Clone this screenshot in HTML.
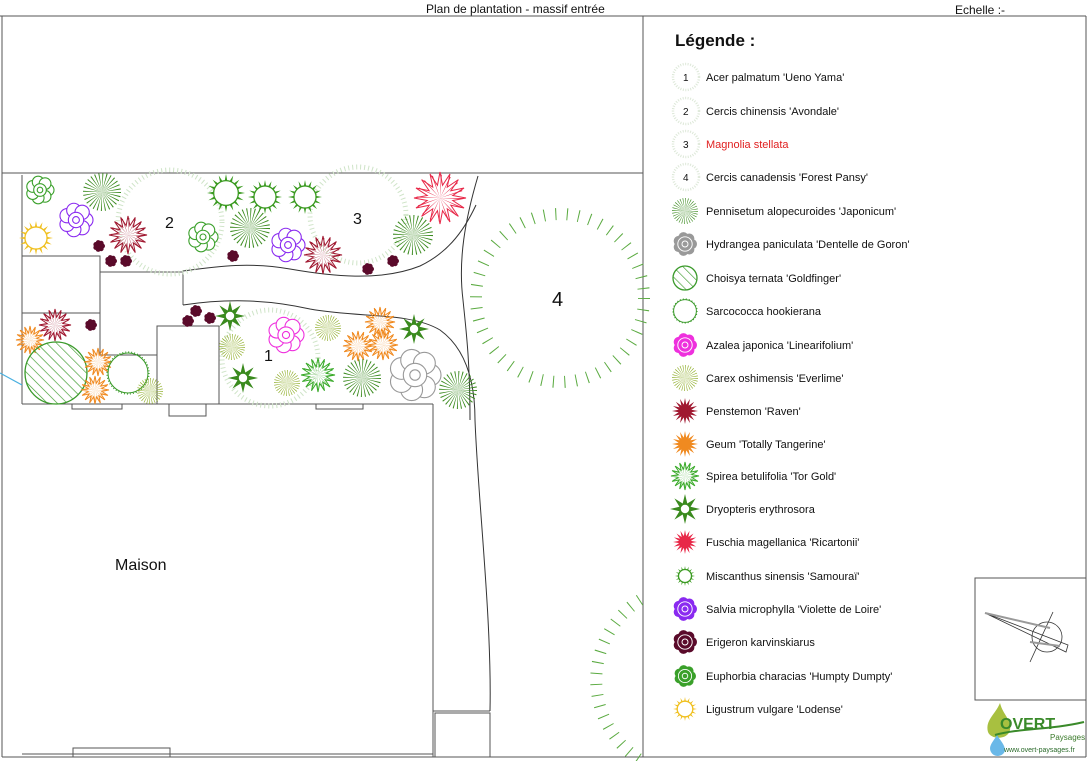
<!DOCTYPE html>
<html><head><meta charset="utf-8"><style>
html,body{margin:0;padding:0;background:#fff;}
svg{display:block;font-family:"Liberation Sans",sans-serif;}
</style></head><body>
<svg width="1088" height="761" viewBox="0 0 1088 761" xmlns="http://www.w3.org/2000/svg" xmlns:xlink="http://www.w3.org/1999/xlink">
<defs>
<pattern id="hatch" width="7" height="7" patternUnits="userSpaceOnUse" patternTransform="rotate(-45)">
<line x1="0" y1="0" x2="0" y2="7" stroke="#3a9a2a" stroke-width="1.3"/>
</pattern>
<g id="rad">
<circle r="5" fill="none" stroke="currentColor" stroke-width="10" stroke-dasharray="0.28 0.84"/>
</g>
<g id="star">
<polygon vector-effect="non-scaling-stroke" fill="none" stroke="currentColor" stroke-width="1" points="10,0 4.9,0.98 9.24,3.83 4.16,2.78 7.07,7.07 2.78,4.16 3.83,9.24 0.98,4.9 0,10 -0.98,4.9 -3.83,9.24 -2.78,4.16 -7.07,7.07 -4.16,2.78 -9.24,3.83 -4.9,0.98 -10,0 -4.9,-0.98 -9.24,-3.83 -4.16,-2.78 -7.07,-7.07 -2.78,-4.16 -3.83,-9.24 -0.98,-4.9 0,-10 0.98,-4.9 3.83,-9.24 2.78,-4.16 7.07,-7.07 4.16,-2.78 9.24,-3.83 4.9,-0.98"/>
<circle r="4.5" fill="none" stroke="currentColor" stroke-width="9" stroke-dasharray="0.2 1.57"/>
</g>
<g id="starf">
<polygon fill="currentColor" points="10,0 4.9,0.98 9.24,3.83 4.16,2.78 7.07,7.07 2.78,4.16 3.83,9.24 0.98,4.9 0,10 -0.98,4.9 -3.83,9.24 -2.78,4.16 -7.07,7.07 -4.16,2.78 -9.24,3.83 -4.9,0.98 -10,0 -4.9,-0.98 -9.24,-3.83 -4.16,-2.78 -7.07,-7.07 -2.78,-4.16 -3.83,-9.24 -0.98,-4.9 0,-10 0.98,-4.9 3.83,-9.24 2.78,-4.16 7.07,-7.07 4.16,-2.78 9.24,-3.83 4.9,-0.98"/>
</g>
<g id="ring">
<polygon fill="currentColor" points="10,0 4.9,0.98 9.24,3.83 4.16,2.78 7.07,7.07 2.78,4.16 3.83,9.24 0.98,4.9 0,10 -0.98,4.9 -3.83,9.24 -2.78,4.16 -7.07,7.07 -4.16,2.78 -9.24,3.83 -4.9,0.98 -10,0 -4.9,-0.98 -9.24,-3.83 -4.16,-2.78 -7.07,-7.07 -2.78,-4.16 -3.83,-9.24 -0.98,-4.9 0,-10 0.98,-4.9 3.83,-9.24 2.78,-4.16 7.07,-7.07 4.16,-2.78 9.24,-3.83 4.9,-0.98"/>
<circle r="6.5" fill="#fff" stroke="currentColor" stroke-width="1.3" vector-effect="non-scaling-stroke"/>
</g>
<g id="dryo">
<polygon fill="currentColor" points="10,0 3.7,1.53 7.07,7.07 1.53,3.7 0,10 -1.53,3.7 -7.07,7.07 -3.7,1.53 -10,0 -3.7,-1.53 -7.07,-7.07 -1.53,-3.7 0,-10 1.53,-3.7 7.07,-7.07 3.7,-1.53"/>
<circle r="2.8" fill="#fff"/>
</g>
<g id="blob" fill="#fff" stroke="currentColor" stroke-width="1.1">
<circle cx="5.8" cy="0" r="4.2" vector-effect="non-scaling-stroke"/><circle cx="3.61" cy="4.54" r="4.2" vector-effect="non-scaling-stroke"/><circle cx="-1.29" cy="5.65" r="4.2" vector-effect="non-scaling-stroke"/><circle cx="-5.23" cy="2.52" r="4.2" vector-effect="non-scaling-stroke"/><circle cx="-5.23" cy="-2.52" r="4.2" vector-effect="non-scaling-stroke"/><circle cx="-1.29" cy="-5.65" r="4.2" vector-effect="non-scaling-stroke"/><circle cx="3.61" cy="-4.54" r="4.2" vector-effect="non-scaling-stroke"/>
<circle r="4.5" vector-effect="non-scaling-stroke"/><circle r="2" vector-effect="non-scaling-stroke"/>
</g>
<g id="blobf" fill="currentColor">
<circle cx="5.8" cy="0" r="4.2"/><circle cx="3.61" cy="4.54" r="4.2"/><circle cx="-1.29" cy="5.65" r="4.2"/><circle cx="-5.23" cy="2.52" r="4.2"/><circle cx="-5.23" cy="-2.52" r="4.2"/><circle cx="-1.29" cy="-5.65" r="4.2"/><circle cx="3.61" cy="-4.54" r="4.2"/><circle r="5"/>
</g>
<g id="blobl" fill="currentColor">
<circle cx="5.8" cy="0" r="4.2"/><circle cx="3.61" cy="4.54" r="4.2"/><circle cx="-1.29" cy="5.65" r="4.2"/><circle cx="-5.23" cy="2.52" r="4.2"/><circle cx="-5.23" cy="-2.52" r="4.2"/><circle cx="-1.29" cy="-5.65" r="4.2"/><circle cx="3.61" cy="-4.54" r="4.2"/><circle r="5"/>
<g fill="none" stroke="#fff" stroke-width="0.8"><circle r="2.5"/><circle r="6"/></g>
</g>
<g id="sarc">
<circle r="9.5" fill="none" stroke="currentColor" stroke-width="1" vector-effect="non-scaling-stroke"/>
<circle r="10" fill="none" stroke="currentColor" stroke-width="1.2" stroke-dasharray="1 2" vector-effect="non-scaling-stroke"/>
</g>
</defs>

<g fill="none" stroke="#555" stroke-width="1">
<line x1="0" y1="16" x2="1086" y2="16"/>
<line x1="2" y1="16" x2="2" y2="757"/>
<line x1="1086" y1="16" x2="1086" y2="757"/>
<line x1="2" y1="757" x2="1086" y2="757"/>
<line x1="643" y1="16" x2="643" y2="757"/>
<line x1="2" y1="173" x2="643" y2="173"/>
<line x1="22" y1="175" x2="22" y2="404"/>
<line x1="22" y1="404" x2="433" y2="404"/>
<line x1="433" y1="404" x2="433" y2="757"/>
<rect x="22" y="256" width="78" height="57"/>
<line x1="100" y1="313" x2="100" y2="355"/>
<line x1="100" y1="355" x2="157" y2="355"/>
<line x1="100" y1="272" x2="183" y2="272"/>
<line x1="183" y1="272" x2="183" y2="305"/>
<rect x="157" y="326" width="62" height="78"/>
<rect x="72" y="404" width="50" height="5"/>
<rect x="169" y="404" width="37" height="12"/>
<rect x="316" y="404" width="47" height="5"/>
<rect x="73" y="748" width="97" height="9"/>
<rect x="435" y="713" width="55" height="44"/>
<line x1="433" y1="711" x2="490" y2="711"/>
<line x1="22" y1="754" x2="433" y2="754"/>
<path d="M183,271 C220,266 250,262 290,269 C330,276 380,282 420,266 C445,254 462,235 476,205" stroke="#333"/>
<path d="M183,305 C230,298 270,300 310,309 C360,318 410,312 440,330 C465,348 475,380 475,420 C478,500 492,620 490,711" stroke="#333"/>
<path d="M478,176 C465,220 458,260 463,300 C466,330 470,360 470,420" stroke="#333"/>
<rect x="975" y="578" width="111" height="122"/>
<line x1="975" y1="700" x2="1086" y2="700"/>
</g>
<line x1="0" y1="373" x2="22" y2="385" stroke="#4ab0e0" stroke-width="1.2"/>

<g fill="none">
<circle cx="170" cy="222" r="52" stroke="#cfe4c8" stroke-width="5" stroke-dasharray="1 3"/>
<circle cx="358" cy="215" r="48" stroke="#cfe4c8" stroke-width="5" stroke-dasharray="1 3"/>
<circle cx="270" cy="358" r="48" stroke="#cfe4c8" stroke-width="5" stroke-dasharray="1 3"/>
<circle cx="560" cy="298" r="84" stroke="#5aaa40" stroke-width="12" stroke-dasharray="1 10.5"/>
<path d="M640,600 A95,95 0 0 0 640,760" stroke="#5aaa40" stroke-width="12" stroke-dasharray="1 10"/>
</g>

<use href="#blob" xlink:href="#blob" transform="translate(40,190) scale(1.4)" color="#3aa02a"/>
<use href="#rad" xlink:href="#rad" transform="translate(102,192) scale(1.9)" color="#3a8a1e"/>
<use href="#ring" xlink:href="#ring" transform="translate(36,238) scale(1.7)" color="#f0c020"/>
<use href="#blob" xlink:href="#blob" transform="translate(76,220) scale(1.7)" color="#8a2af0"/>
<use href="#star" xlink:href="#star" transform="translate(128,235) scale(1.9)" color="#a01830"/>
<g color="#5a0a2a">
<use href="#blobf" xlink:href="#blobf" transform="translate(99,246) scale(0.6)"/>
<use href="#blobf" xlink:href="#blobf" transform="translate(111,261) scale(0.6)"/>
<use href="#blobf" xlink:href="#blobf" transform="translate(126,261) scale(0.6)"/>
<use href="#blobf" xlink:href="#blobf" transform="translate(233,256) scale(0.6)"/>
<use href="#blobf" xlink:href="#blobf" transform="translate(368,269) scale(0.6)"/>
<use href="#blobf" xlink:href="#blobf" transform="translate(393,261) scale(0.6)"/>
<use href="#blobf" xlink:href="#blobf" transform="translate(188,321) scale(0.6)"/>
<use href="#blobf" xlink:href="#blobf" transform="translate(196,311) scale(0.6)"/>
<use href="#blobf" xlink:href="#blobf" transform="translate(210,318) scale(0.6)"/>
<use href="#blobf" xlink:href="#blobf" transform="translate(91,325) scale(0.6)"/>
</g>
<use href="#blob" xlink:href="#blob" transform="translate(203,237) scale(1.5)" color="#3aa02a"/>
<use href="#ring" xlink:href="#ring" transform="translate(226,193) scale(1.9)" color="#3a9a20"/>
<use href="#ring" xlink:href="#ring" transform="translate(265,197) scale(1.7)" color="#3a9a20"/>
<use href="#ring" xlink:href="#ring" transform="translate(305,197) scale(1.7)" color="#3a9a20"/>
<use href="#rad" xlink:href="#rad" transform="translate(250,228) scale(2)" color="#3a8a1e"/>
<use href="#blob" xlink:href="#blob" transform="translate(288,245) scale(1.7)" color="#8a2af0"/>
<use href="#star" xlink:href="#star" transform="translate(323,255) scale(1.9)" color="#a01830"/>
<use href="#star" xlink:href="#star" transform="translate(440,198) scale(2.6)" color="#e82848"/>
<use href="#rad" xlink:href="#rad" transform="translate(413,235) scale(2)" color="#3a8a1e"/>
<use href="#star" xlink:href="#star" transform="translate(55,325) scale(1.6)" color="#a01830"/>
<use href="#star" xlink:href="#star" transform="translate(30,340) scale(1.4)" color="#f08a20"/>
<circle cx="56" cy="373" r="31" fill="url(#hatch)" stroke="#3a9a2a" stroke-width="1.3"/>
<use href="#star" xlink:href="#star" transform="translate(98,362) scale(1.4)" color="#f08a20"/>
<use href="#star" xlink:href="#star" transform="translate(95,390) scale(1.4)" color="#f08a20"/>
<use href="#sarc" xlink:href="#sarc" transform="translate(128,373) scale(2.1)" color="#3a9a2a"/>
<use href="#rad" xlink:href="#rad" transform="translate(150,391) scale(1.3)" color="#8aaa20"/>
<use href="#dryo" xlink:href="#dryo" transform="translate(230,316) scale(1.5)" color="#3a8a1e"/>
<use href="#dryo" xlink:href="#dryo" transform="translate(243,378) scale(1.5)" color="#3a8a1e"/>
<use href="#rad" xlink:href="#rad" transform="translate(232,347) scale(1.3)" color="#8aaa20"/>
<use href="#rad" xlink:href="#rad" transform="translate(287,383) scale(1.3)" color="#8aaa20"/>
<use href="#rad" xlink:href="#rad" transform="translate(328,328) scale(1.3)" color="#8aaa20"/>
<use href="#blob" xlink:href="#blob" transform="translate(286,335) scale(1.8)" color="#ee30dd"/>
<use href="#star" xlink:href="#star" transform="translate(318,375) scale(1.7)" color="#3aaa2a"/>
<use href="#star" xlink:href="#star" transform="translate(358,346) scale(1.5)" color="#f08a20"/>
<use href="#star" xlink:href="#star" transform="translate(380,322) scale(1.5)" color="#f08a20"/>
<use href="#star" xlink:href="#star" transform="translate(383,345) scale(1.5)" color="#f08a20"/>
<use href="#dryo" xlink:href="#dryo" transform="translate(414,329) scale(1.5)" color="#3a8a1e"/>
<use href="#rad" xlink:href="#rad" transform="translate(362,378) scale(1.9)" color="#3a8a1e"/>
<use href="#rad" xlink:href="#rad" transform="translate(458,390) scale(1.9)" color="#3a8a1e"/>
<use href="#blob" xlink:href="#blob" transform="translate(415,375) scale(2.6)" color="#999"/>

<g font-size="16" fill="#111">
<text x="165" y="228">2</text><text x="353" y="224">3</text><text x="264" y="361">1</text>
<text x="552" y="306" font-size="20">4</text>
</g>
<text x="115" y="570" font-size="16" fill="#111">Maison</text>
<text x="426" y="13" font-size="12" fill="#111">Plan de plantation - massif entrée</text>
<text x="955" y="14" font-size="12" fill="#111">Echelle :-</text>
<text x="675" y="46" font-size="17" font-weight="bold" fill="#111">Légende :</text>

<g fill="none" stroke="#dde8d8" stroke-width="2.5" stroke-dasharray="1 1.5">
<circle cx="686" cy="77" r="13"/><circle cx="686" cy="111" r="13"/><circle cx="686" cy="144" r="13"/><circle cx="686" cy="177" r="13"/>
</g>
<use href="#rad" xlink:href="#rad" transform="translate(685,211) scale(1.3)" color="#3a8a1e"/>
<use href="#blobl" xlink:href="#blobl" transform="translate(685,244) scale(1.2)" color="#999"/>
<circle cx="685" cy="278" r="12" fill="url(#hatch)" stroke="#3a9a2a" stroke-width="1.3"/>
<use href="#sarc" xlink:href="#sarc" transform="translate(685,311) scale(1.2)" color="#3a9a2a"/>
<use href="#blobl" xlink:href="#blobl" transform="translate(685,345) scale(1.2)" color="#ee30dd"/>
<use href="#rad" xlink:href="#rad" transform="translate(685,378) scale(1.3)" color="#8aaa20"/>
<use href="#starf" xlink:href="#starf" transform="translate(685,411) scale(1.3)" color="#a01830"/>
<use href="#starf" xlink:href="#starf" transform="translate(685,444) scale(1.3)" color="#f08a20"/>
<use href="#star" xlink:href="#star" transform="translate(685,476) scale(1.4)" color="#3aaa2a"/>
<use href="#dryo" xlink:href="#dryo" transform="translate(685,509) scale(1.5)" color="#3a8a1e"/>
<use href="#starf" xlink:href="#starf" transform="translate(685,542) scale(1.2)" color="#e82848"/>
<use href="#ring" xlink:href="#ring" transform="translate(685,576) scale(1.0)" color="#3a9a20"/>
<use href="#blobl" xlink:href="#blobl" transform="translate(685,609) scale(1.2)" color="#8a2af0"/>
<use href="#blobl" xlink:href="#blobl" transform="translate(685,642) scale(1.2)" color="#5a0a2a"/>
<use href="#blobl" xlink:href="#blobl" transform="translate(685,676) scale(1.1)" color="#3aa02a"/>
<use href="#ring" xlink:href="#ring" transform="translate(685,709) scale(1.2)" color="#f0c020"/>

<g font-size="10" fill="#111"><text x="683" y="81">1</text><text x="683" y="115">2</text><text x="683" y="148">3</text><text x="683" y="181">4</text></g>
<g font-size="11" fill="#111">
<text x="706" y="81">Acer palmatum 'Ueno Yama'</text>
<text x="706" y="115">Cercis chinensis 'Avondale'</text>
<text x="706" y="148" fill="#e02020">Magnolia stellata</text>
<text x="706" y="181">Cercis canadensis 'Forest Pansy'</text>
<text x="706" y="215">Pennisetum alopecuroides 'Japonicum'</text>
<text x="706" y="248">Hydrangea paniculata 'Dentelle de Goron'</text>
<text x="706" y="282">Choisya ternata 'Goldfinger'</text>
<text x="706" y="315">Sarcococca hookierana</text>
<text x="706" y="349">Azalea japonica 'Linearifolium'</text>
<text x="706" y="382">Carex oshimensis 'Everlime'</text>
<text x="706" y="415">Penstemon 'Raven'</text>
<text x="706" y="448">Geum 'Totally Tangerine'</text>
<text x="706" y="480">Spirea betulifolia 'Tor Gold'</text>
<text x="706" y="513">Dryopteris erythrosora</text>
<text x="706" y="546">Fuschia magellanica 'Ricartonii'</text>
<text x="706" y="580">Miscanthus sinensis 'Samouraï'</text>
<text x="706" y="613">Salvia microphylla 'Violette de Loire'</text>
<text x="706" y="646">Erigeron karvinskiarus</text>
<text x="706" y="680">Euphorbia characias 'Humpty Dumpty'</text>
<text x="706" y="713">Ligustrum vulgare 'Lodense'</text>
</g>

<g stroke="#333" fill="none" stroke-width="0.8">
<circle cx="1047" cy="637" r="15"/>
<line x1="1030" y1="662" x2="1053" y2="612"/>
<path d="M985,613 L1068,645 L1066,652 Z"/>
<line x1="985" y1="613" x2="1050" y2="628" stroke="#999" stroke-width="2"/>
<line x1="1030" y1="642" x2="1060" y2="646" stroke="#999" stroke-width="2"/>
</g>
<path d="M1000,703 C995,715 985,720 988,732 C991,740 1008,740 1010,730 C1012,720 1003,715 1000,703 Z" fill="#a8c040"/>
<path d="M997,735 C993,742 988,746 991,752 C994,758 1004,757 1005,750 C1005,745 1000,740 997,735 Z" fill="#6ab8e8"/>
<text x="1000" y="729" font-size="16" font-weight="bold" fill="#3a8a2a">OVERT</text>
<path d="M995,735 C1020,728 1050,730 1084,722" stroke="#3a8a2a" stroke-width="2" fill="none"/>
<text x="1050" y="740" font-size="8" fill="#3a7a2a">Paysages</text>
<text x="1004" y="752" font-size="7" fill="#2a6a2a">www.overt-paysages.fr</text>
</svg>
</body></html>
